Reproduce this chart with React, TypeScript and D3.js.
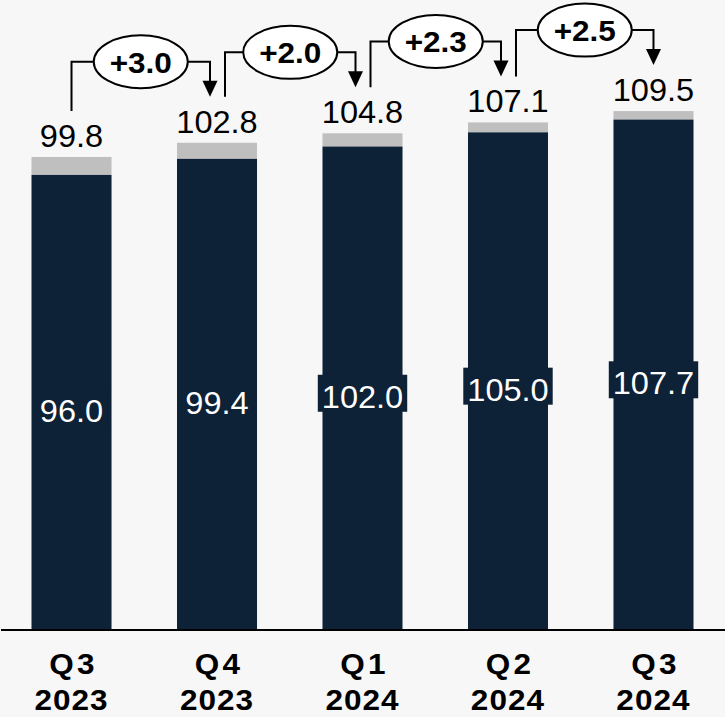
import React, { useEffect, useRef } from 'react';
import * as d3 from 'd3';

const quarters = ['Q3', 'Q4', 'Q1', 'Q2', 'Q3'];
const years = ['2023', '2023', '2024', '2024', '2024'];
const coreValues = [96.0, 99.4, 102.0, 105.0, 107.7];
const totalValues = [99.8, 102.8, 104.8, 107.1, 109.5];
const changeLabels = ['+3.0', '+2.0', '+2.3', '+2.5'];

const W = 725;
const H = 717;
const NAVY = '#0d2137';
const GRAY = '#bfbfbf';
const BG = '#f7f7f7';
const FONT = '"Liberation Sans", Arial, Helvetica, sans-serif';
const SX = 1.05;

export default function App() {
  const ref = useRef<SVGSVGElement>(null);
  useEffect(() => {
    const svg = d3.select(ref.current);
    svg.selectAll('*').remove();
    const baseY = 629;
    const idx = d3.range(coreValues.length);
    const x = d3.scaleBand<number>().domain(idx).range([0, W]).paddingInner(0.45).paddingOuter(0.2165);
    const y = d3.scaleLinear().domain([0, 100]).range([baseY, baseY - 473]);
    const cx = (i: number) => (x(i) as number) + x.bandwidth() / 2;

    const txt = (g: any, s: string, tx: number, ty: number, size: number, weight: string, fill: string, ls = 0) =>
      g.append('text')
        .attr('transform', `translate(${tx},${ty}) scale(${SX},1)`)
        .attr('text-anchor', 'middle')
        .attr('font-family', FONT)
        .attr('font-size', size)
        .attr('font-weight', weight)
        .attr('letter-spacing', ls)
        .attr('fill', fill)
        .text(s);

    // bars
    const bars = svg.append('g');
    idx.forEach((i) => {
      bars.append('rect')
        .attr('x', x(i) as number)
        .attr('width', x.bandwidth())
        .attr('y', y(totalValues[i]))
        .attr('height', y(coreValues[i]) - y(totalValues[i]))
        .attr('fill', GRAY);
      bars.append('rect')
        .attr('x', x(i) as number)
        .attr('width', x.bandwidth())
        .attr('y', y(coreValues[i]))
        .attr('height', baseY - y(coreValues[i]))
        .attr('fill', NAVY);
    });

    // inner labels
    idx.forEach((i) => {
      const mid = (y(coreValues[i]) + baseY) / 2 + 9;
      const base = mid + 11;
      const g = svg.append('g');
      const t = txt(g, coreValues[i].toFixed(1), cx(i), base, 31, 'normal', '#ffffff');
      const w = (t.node() as SVGTextElement).getComputedTextLength() * SX;
      g.insert('rect', 'text')
        .attr('x', cx(i) - w / 2 - 4)
        .attr('width', w + 8)
        .attr('y', base - 33)
        .attr('height', 37)
        .attr('fill', NAVY);
    });

    // total labels
    idx.forEach((i) => {
      txt(svg, totalValues[i].toFixed(1), cx(i), y(totalValues[i]) - 10, 31, 'normal', '#000000');
    });

    // baseline
    svg.append('line')
      .attr('x1', 1).attr('x2', W)
      .attr('y1', baseY + 1).attr('y2', baseY + 1)
      .attr('stroke', '#000').attr('stroke-width', 2.2);

    // axis labels
    idx.forEach((i) => {
      txt(svg, quarters[i], cx(i) + 2, 674, 30, 'bold', '#000000', 3);
      txt(svg, years[i], cx(i), 710, 30, 'bold', '#000000', 1);
    });

    // connectors
    const n = coreValues.length;
    changeLabels.forEach((lab, i) => {
      const x0 = cx(i) + (i === 0 ? 0 : 8);
      const x1 = cx(i + 1) - (i + 1 === n - 1 ? 0 : 7);
      const yStart = y(totalValues[i]) - 46;
      const yLine = y(Math.max(totalValues[i], totalValues[i + 1])) - 81;
      const yTip = y(totalValues[i + 1]) - 46;
      const g = svg.append('g');
      const path = d3.path();
      path.moveTo(x0, yStart);
      path.lineTo(x0, yLine);
      path.lineTo(x1, yLine);
      path.lineTo(x1, yTip - 15);
      g.append('path').attr('d', path.toString()).attr('fill', 'none').attr('stroke', '#000').attr('stroke-width', 2);
      g.append('path')
        .attr('d', `M${x1 - 7.5},${yTip - 16}L${x1 + 7.5},${yTip - 16}L${x1},${yTip}Z`)
        .attr('fill', '#000');
      const ex = (x0 + x1) / 2;
      g.append('ellipse')
        .attr('cx', ex).attr('cy', yLine)
        .attr('rx', 47).attr('ry', 26.5)
        .attr('fill', '#fff').attr('stroke', '#000').attr('stroke-width', 2);
      txt(g, lab, ex, yLine + 11, 30, 'bold', '#000000');
    });
  }, []);
  return (
    <svg
      ref={ref}
      width={W}
      height={H}
      style={{ position: 'absolute', left: 0, top: 0, background: BG, display: 'block' }}
    />
  );
}
